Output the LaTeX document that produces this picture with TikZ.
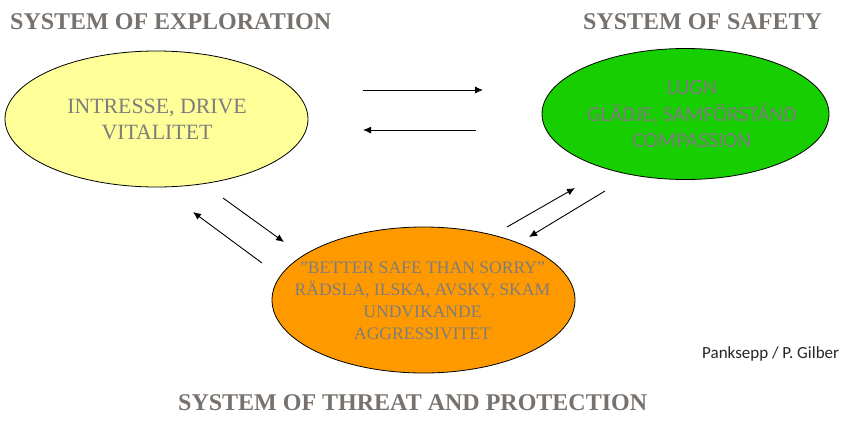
\documentclass[tikz,border=0pt]{standalone}
\usepackage{fontspec}
\setmainfont{Liberation Serif}
\newfontfamily\serfont{Liberation Serif}
\newfontfamily\calfont{Carlito}
\usetikzlibrary{shapes.geometric,arrows.meta}
\definecolor{titlegray}{RGB}{119,114,109}
\definecolor{txtgray}{RGB}{125,125,125}
\definecolor{yelfill}{RGB}{255,255,153}
\definecolor{grnfill}{RGB}{22,206,0}
\definecolor{orgfill}{RGB}{255,153,0}
\tikzset{
  blob/.style={ellipse,draw=black,line width=0.8pt,inner sep=0pt},
  titletext/.style={anchor=base west,inner sep=0pt,text=titlegray,font=\serfont\fontsize{24}{28}\selectfont\bfseries},
  serifin/.style={align=center,inner sep=0pt,text=txtgray},
  sansin/.style={align=center,inner sep=0pt,text=txtgray,font=\calfont\fontsize{21.5}{26.5}\selectfont},
  flow/.style={line width=0.9pt,-{Latex[length=8pt,width=7pt]}},
  credit/.style={anchor=base west,inner sep=0pt,text=black!85,font=\calfont\fontsize{17}{20}\selectfont}
}
\begin{document}
\begin{tikzpicture}[x=1pt,y=-1pt]
\useasboundingbox (0,0) rectangle (846,423);
% ellipses
\node[blob,fill=yelfill,minimum width=303pt,minimum height=136pt] (ey) at (156.5,119) {};
\node[blob,fill=grnfill,minimum width=287pt,minimum height=131pt] (eg) at (685.5,114) {};
\node[blob,fill=orgfill,minimum width=303pt,minimum height=146pt] (eo) at (423.5,300) {};
% ellipse texts
\node[serifin,font=\serfont\fontsize{21.8}{26}\selectfont] (ty) at (157,119) {INTRESSE, DRIVE\\VITALITET};
\node[sansin] (tg) at (692,114.5) {LUGN\\GLÄDJE, SAMFÖRSTÅND\\COMPASSION};
\node[serifin,font=\serfont\fontsize{17.6}{22}\selectfont] (to) at (422.5,301) {”BETTER SAFE THAN SORRY”\\RÄDSLA, ILSKA, AVSKY, SKAM\\UNDVIKANDE\\AGGRESSIVITET};
% titles
\node[titletext] (t1) at (10,29) {SYSTEM OF EXPLORATION};
\node[titletext] (t2) at (583,29) {SYSTEM OF SAFETY};
\node[titletext] (t3) at (178,410) {SYSTEM OF THREAT AND PROTECTION};
\node[credit] (cr) at (702,358) {Panksepp / P. Gilber};
% arrow end points
\coordinate (a1s) at (363,90);  \coordinate (a1e) at (483,90);
\coordinate (a2s) at (476,130); \coordinate (a2e) at (363,130);
\coordinate (a3s) at (223,198); \coordinate (a3e) at (284,242);
\coordinate (a4s) at (262,263); \coordinate (a4e) at (193,212);
\coordinate (a5s) at (507,227); \coordinate (a5e) at (575,188);
\coordinate (a6s) at (605,191); \coordinate (a6e) at (529,237);
\draw[flow] (a1s) -- (a1e);
\draw[flow] (a2s) -- (a2e);
\draw[flow] (a3s) -- (a3e);
\draw[flow] (a4s) -- (a4e);
\draw[flow] (a5s) -- (a5e);
\draw[flow] (a6s) -- (a6e);
\end{tikzpicture}
\end{document}
